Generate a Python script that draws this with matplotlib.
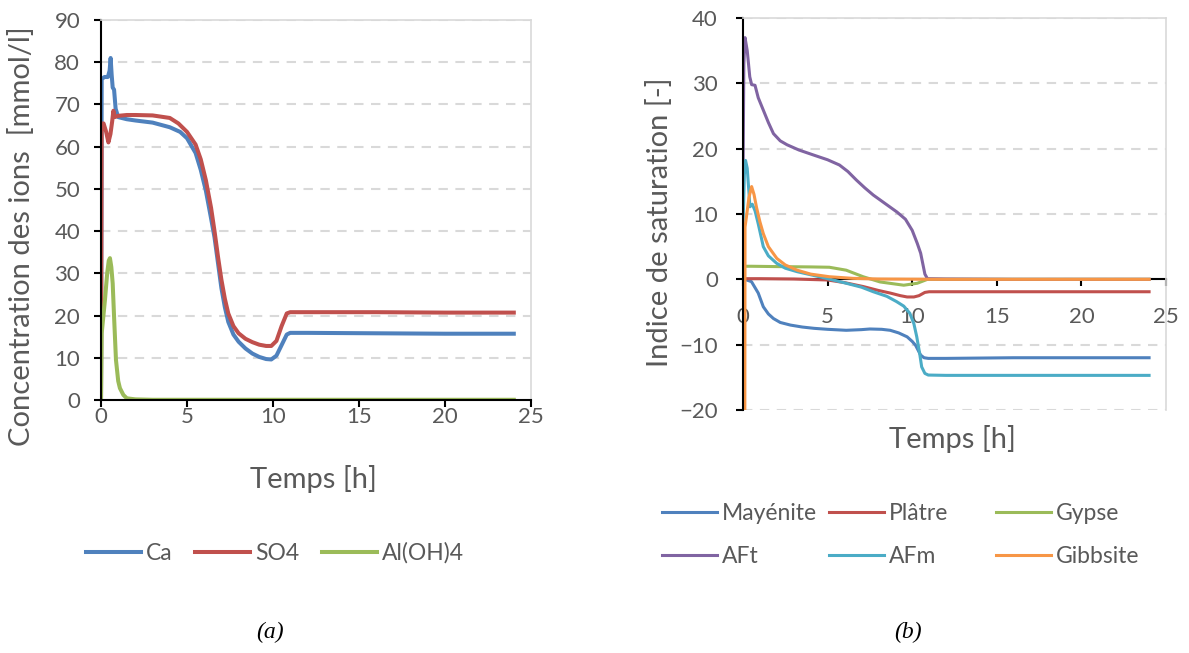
import matplotlib
matplotlib.use("Agg")
import matplotlib.pyplot as plt

# --- données (a) : concentrations des ions ---
t_ca = [0, 0.04, 0.2, 0.4, 0.5, 0.56, 0.62, 0.68, 0.76, 0.85, 1.0, 1.5, 2, 3, 4, 4.6,
        5.0, 5.5, 5.8, 6.1, 6.4, 6.6, 6.8, 7.0, 7.2, 7.4, 7.7, 8.0, 8.4, 8.8, 9.2, 9.6,
        9.9, 10.2, 10.5, 10.8, 11.0, 12, 16, 20, 24]
ca = [0, 76, 76.5, 76.5, 78, 81, 77, 74, 73.5, 69, 67, 66.5, 66.2, 65.7, 64.6, 63.5,
      62, 58.5, 54.5, 49.5, 43, 38.5, 32.5, 26.5, 22, 18.5, 15.5, 13.8, 12.2, 11, 10.2, 9.7,
      9.6, 10.5, 13, 15.5, 15.9, 15.9, 15.8, 15.7, 15.7]

t_so4 = [0, 0.04, 0.15, 0.3, 0.43, 0.55, 0.65, 0.72, 0.8, 1.0, 1.5, 2, 3, 4, 4.5,
         5.0, 5.5, 5.8, 6.1, 6.4, 6.6, 6.8, 7.0, 7.2, 7.4, 7.7, 8.0, 8.4, 8.8, 9.2, 9.6,
         9.9, 10.2, 10.5, 10.8, 11.0, 12, 16, 20, 24]
so4 = [0, 65.5, 65.5, 63.5, 61, 63, 66, 68.5, 67, 67.3, 67.5, 67.5, 67.4, 66.8, 65.5,
       63.5, 60.5, 57, 52, 45.5, 40, 34, 28.5, 24, 20.5, 17.5, 15.8, 14.5, 13.7, 13.1, 12.8,
       12.8, 14.0, 17.5, 20.5, 20.8, 20.8, 20.8, 20.7, 20.7]

t_al = [0, 0.04, 0.23, 0.36, 0.45, 0.52, 0.6, 0.68, 0.76, 0.87, 1.0, 1.1, 1.3, 1.5,
        2.0, 3, 6, 10, 15, 20, 24]
al = [0, 15.8, 23.7, 30, 33, 33.6, 31.5, 27.6, 19.7, 9.5, 4.5, 2.8, 1.2, 0.4,
      0.15, 0.05, 0.05, 0.05, 0.05, 0.05, 0.05]

ions = ["Ca", "SO4", "Al(OH)4"]

# --- données (b) : indices de saturation ---
t_may = [0, 0.1, 0.5, 0.9, 1.2, 1.5, 1.8, 2.2, 2.8, 3.5, 4.2, 5, 6.1, 7.0, 7.5, 8.2,
         8.7, 9.2, 9.7, 10.0, 10.2, 10.5, 10.7, 10.95, 12, 16, 20, 24]
may = [0, 0, -0.35, -2.1, -4.2, -5.3, -6.0, -6.6, -7.0, -7.3, -7.5, -7.65, -7.8, -7.7,
       -7.6, -7.65, -7.8, -8.2, -8.8, -9.5, -10.1, -11.6, -12.0, -12.1, -12.1, -12.0,
       -12.0, -12.0]

t_pla = [0, 1, 3, 5, 6, 7.1, 8, 8.7, 9.3, 9.7, 10.1, 10.4, 10.75, 11, 12, 16, 20, 24]
pla = [0.1, 0.1, 0.05, -0.1, -0.5, -1.1, -1.7, -2.1, -2.5, -2.7, -2.7, -2.5, -2.0,
       -1.9, -1.9, -1.9, -1.9, -1.9]

t_gyp = [0, 0.5, 2, 4, 5.1, 6.1, 7.1, 8.1, 9.5, 10.3, 10.9, 12, 16, 20, 24]
gyp = [2.0, 2.0, 1.95, 1.9, 1.85, 1.4, 0.4, -0.4, -0.9, -0.6, 0, 0, 0, 0, 0]

t_aft = [0, 0.05, 0.12, 0.25, 0.4, 0.51, 0.71, 0.9, 1.2, 1.5, 1.8, 2.2, 2.6, 3.3,
         4.2, 5.0, 5.7, 6.2, 6.7, 7.2, 7.7, 8.4, 9.1, 9.6, 10.0, 10.3, 10.5, 10.75,
         10.9, 12, 16, 20, 24]
aft = [15, 33, 37, 35, 31, 29.8, 29.7, 27.8, 25.9, 24, 22.3, 21.2, 20.6, 19.8,
       19.0, 18.3, 17.5, 16.5, 15.2, 14, 12.9, 11.6, 10.3, 9.2, 7.5, 5.5, 4.0, 0.8,
       0.1, 0.05, 0, 0, 0]

t_afm = [0, 0.08, 0.15, 0.25, 0.41, 0.55, 0.71, 0.9, 1.2, 1.5, 1.99, 2.5, 3.2, 4.0,
         4.93, 6.1, 7.0, 7.7, 8.5, 9.07, 9.5, 9.86, 10.1, 10.27, 10.45, 10.56, 10.75,
         10.95, 12, 16, 20, 24]
afm = [8, 16, 18.2, 17, 11.1, 11.5, 10.5, 8.5, 5.0, 3.6, 2.45, 1.7, 1.17, 0.7,
       0.15, -0.6, -1.2, -1.9, -2.6, -3.4, -4.1, -5.2, -6.8, -8.8, -11.5, -13.4, -14.4,
       -14.65, -14.7, -14.7, -14.7, -14.7]

t_gib = [0.1, 0.12, 0.2, 0.35, 0.51, 0.65, 0.8, 1.0, 1.2, 1.5, 2.0, 2.5, 3.2, 4.0,
         5.1, 6.5, 8, 12, 16, 20, 24]
gib = [-40, 8, 9.5, 12.5, 14.2, 13, 11.0, 8.8, 7.0, 5.0, 3.2, 2.2, 1.4, 0.8,
       0.4, 0.15, 0.05, 0, 0, 0, 0]

phases = ["Mayénite", "Plâtre", "Gypse", "AFt", "AFm", "Gibbsite"]

# couleurs Office 2010
C_BLUE, C_RED, C_GREEN = "#4F81BD", "#C0504D", "#9BBB59"
C_PURPLE, C_AQUA, C_ORANGE = "#8064A2", "#4BACC6", "#F79646"
GREY_TXT = "#595959"
GRID = "#D9D9D9"

plt.rcParams["font.family"] = ["Lato", "DejaVu Sans"]

W, H = 1189, 653
fig = plt.figure(figsize=(W / 100, H / 100), dpi=100)


def style_axes(ax):
    ax.spines["left"].set_color("black")
    ax.spines["left"].set_linewidth(1.5)
    ax.spines["bottom"].set_color("black")
    ax.spines["bottom"].set_linewidth(1.5)
    for s in ("top", "right"):
        ax.spines[s].set_color(GRID)
        ax.spines[s].set_linewidth(1.2)
    ax.yaxis.grid(True, color=GRID, lw=1.5, linestyle=(0, (4.5, 3.6)))
    ax.set_axisbelow(True)
    ax.tick_params(colors="black", labelcolor=GREY_TXT, labelsize=16,
                   direction="out", length=5, width=1.5)


# ---------- (a) ----------
ax1 = fig.add_axes([101 / W, 1 - 400 / H, 430 / W, 380 / H])
style_axes(ax1)
ax1.plot(t_ca, ca, color=C_BLUE, lw=2.9, label=ions[0])
ax1.plot(t_so4, so4, color=C_RED, lw=2.9, label=ions[1])
ax1.plot(t_al, al, color=C_GREEN, lw=2.9, label=ions[2])
ax1.set_xlim(0, 25)
ax1.set_ylim(0, 90)
ax1.set_xticks(range(0, 26, 5))
ax1.set_yticks(range(0, 91, 10))
ax1.tick_params(axis="y", pad=10)
ax1.tick_params(axis="x", pad=0)
ax1.set_xlabel("Temps [h]", fontsize=21, color=GREY_TXT)
ax1.xaxis.set_label_coords(0.495, -0.172)
ax1.set_ylabel("Concentration des ions  [mmol/l]", fontsize=21, color=GREY_TXT)
ax1.yaxis.set_label_coords(-0.153, 0.43)

fig.legend(*ax1.get_legend_handles_labels(), loc="center",
           bbox_to_anchor=(275 / W, 1 - 553 / H), ncol=3, frameon=False,
           fontsize=16.5, labelcolor=GREY_TXT, handlelength=2.4,
           handletextpad=0.2, columnspacing=1.0)

# ---------- (b) ----------
ax2 = fig.add_axes([743 / W, 1 - 410 / H, 423 / W, 392 / H])
style_axes(ax2)
lines = []
for (tt, vv, c, name) in [(t_may, may, C_BLUE, phases[0]),
                          (t_pla, pla, C_RED, phases[1]),
                          (t_gyp, gyp, C_GREEN, phases[2]),
                          (t_aft, aft, C_PURPLE, phases[3]),
                          (t_afm, afm, C_AQUA, phases[4]),
                          (t_gib, gib, C_ORANGE, phases[5])]:
    ln, = ax2.plot(tt, vv, color=c, lw=2.2, label=name, zorder=2.5)
    lines.append(ln)
ax2.set_xlim(0, 25)
ax2.set_ylim(-20, 40)
ax2.set_xticks(range(0, 26, 5))
ax2.set_yticks(range(-20, 41, 10))
ax2.spines["bottom"].set_position(("data", 0))
ax2.spines["bottom"].set_zorder(2.2)
ax2.tick_params(axis="y", pad=13)
ax2.tick_params(axis="x", pad=15)
ax2.set_xlabel("Temps [h]", fontsize=21, color=GREY_TXT)
ax2.xaxis.set_label_coords(0.494, -0.038)
ax2.set_ylabel("Indice de saturation [-]", fontsize=21, color=GREY_TXT)
ax2.yaxis.set_label_coords(-0.165, 0.48)

# légende en 3 colonnes de largeur égale
for col, x0 in enumerate([662, 829, 996]):
    fig.legend([lines[col], lines[col + 3]], [phases[col], phases[col + 3]],
               loc="center left", bbox_to_anchor=(x0 / W, 1 - 535 / H),
               frameon=False, fontsize=16.5, labelcolor=GREY_TXT,
               handlelength=2.4, handletextpad=0.2, labelspacing=0.95,
               borderpad=0, borderaxespad=0)

fig.text(270 / W, 1 - 632 / H, "(a)", fontsize=17, style="italic",
         family="Liberation Serif", ha="center", va="center")
fig.text(908 / W, 1 - 632 / H, "(b)", fontsize=17, style="italic",
         family="Liberation Serif", ha="center", va="center")

fig.savefig("out.png", dpi=100)
